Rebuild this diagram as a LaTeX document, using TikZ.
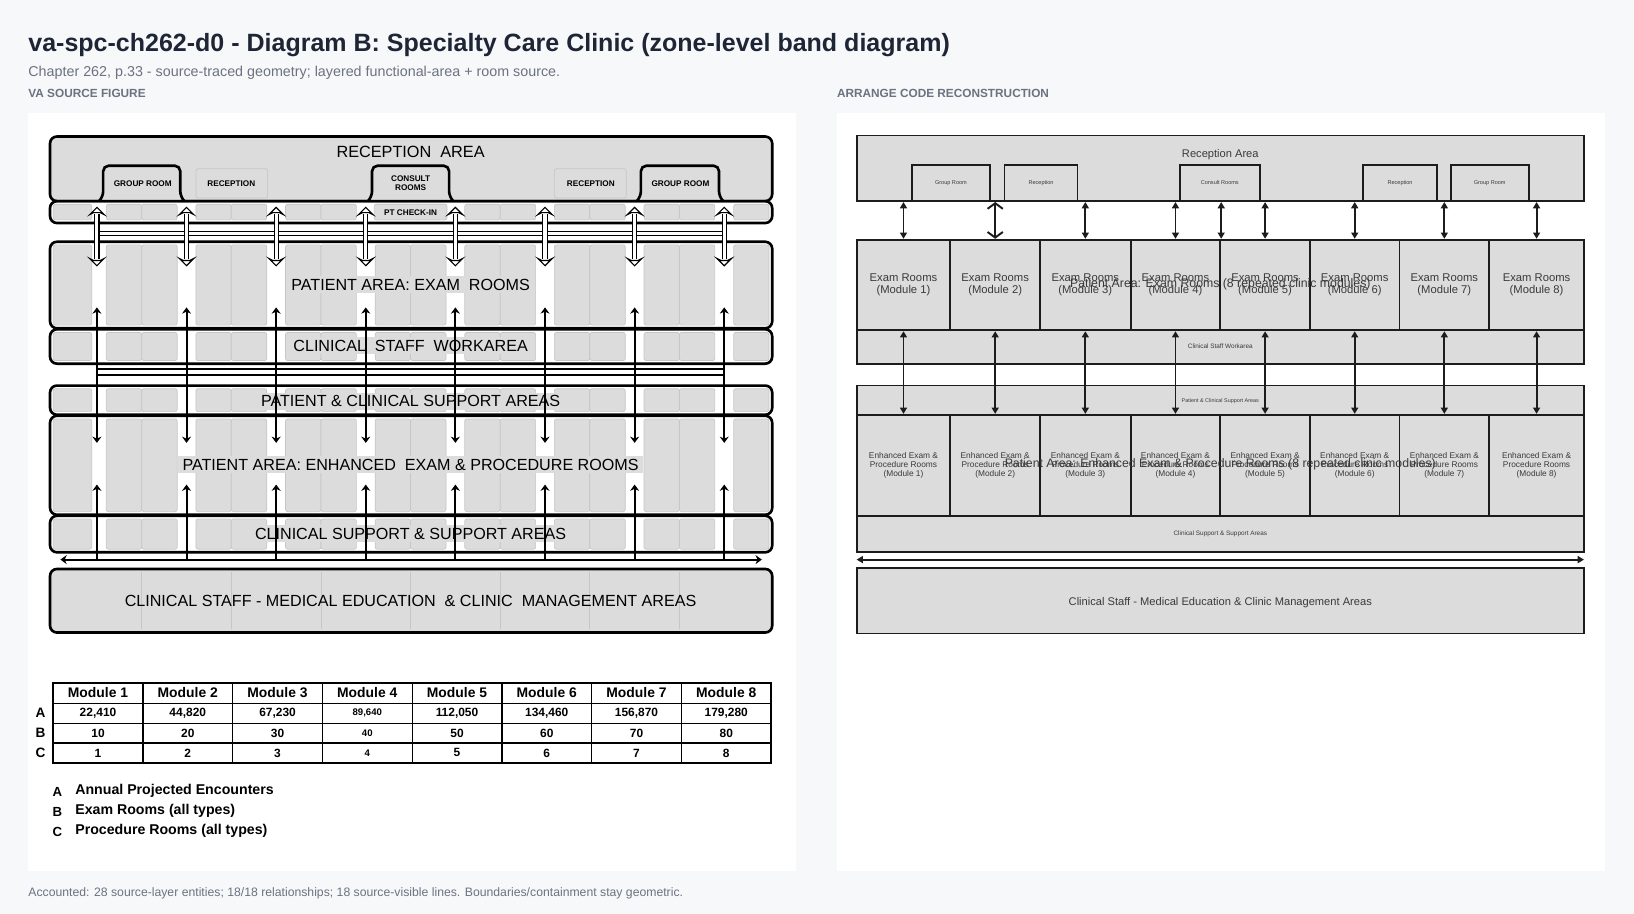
\documentclass[tikz,border=0pt]{standalone}
\usepackage{fontspec}
\setmainfont{Liberation Sans}
\usetikzlibrary{math,arrows.meta}

\definecolor{pagebg}{HTML}{F7F8FA}
\definecolor{titleink}{HTML}{1E2535}
\definecolor{mutedink}{HTML}{6B7280}
\definecolor{zonegray}{HTML}{DCDCDC}
\definecolor{celledge}{HTML}{C6C6C6}
\definecolor{rink}{HTML}{1C1C1C}
\definecolor{rtext}{HTML}{3A3A3A}

\newcommand{\fsz}[2]{\fontsize{#1}{#2}\selectfont}
% one row of paired room cells between the lanes
\newcommand{\cellrow}[2]{%
  \draw[cell] (51,#1) rectangle (88,#2);
  \foreach \i in {1,...,7} {
    \tikzmath{ \xa = 93 + 86*(\i-1) + 9; \xm = \xa + 34; \xb = \xa + 68; }
    \draw[cell] (\xa,#1) rectangle (\xm,#2);
    \draw[cell] (\xm,#1) rectangle (\xb,#2);
  }
  \draw[cell] (704,#1) rectangle (738,#2);
}

\begin{document}
\begin{tikzpicture}[x=0.75pt, y=-0.75pt]
\tikzstyle{zone}=[rectangle, draw=black, line width=1.9pt, rounded corners=5pt, inner sep=0pt]
\tikzstyle{cell}=[fill=zonegray, draw=celledge, line width=0.5pt, rounded corners=1.5pt]
\tikzstyle{zone label}=[fill=zonegray, inner xsep=3pt, inner ysep=2pt, font=\fsz{11.6}{13}]
\tikzstyle{tab}=[draw=black, line width=1.9pt, rounded corners=4pt]
\tikzstyle{tab label}=[font=\bfseries\fsz{5.9}{6.6}, align=center]
\tikzstyle{hollow}=[double=white, double distance=2.2pt, line width=0.8pt]
\tikzstyle{hollow head}=[draw=black, fill=white, line width=0.8pt, line join=miter]
\tikzstyle{lane}=[line width=1.4pt, -{Stealth[length=4.5pt, width=6.5pt]}]
\tikzstyle{rbox}=[rectangle, draw=rink, line width=1.3pt, fill=zonegray, inner sep=0pt]
\tikzstyle{rlabel}=[text=rtext, align=center]
\tikzstyle{rarrow}=[draw=rink, line width=1.4pt, {Triangle[length=4.5pt, width=5pt]}-{Triangle[length=4.5pt, width=5pt]}]
\tikzset{boxsize/.style 2 args={minimum width=(#1)*0.75pt, minimum height=(#2)*0.75pt}}

% page and the two cards
\fill[pagebg] (0,0) rectangle (1568,877);
\fill[white] (27,108) rectangle (764,836);
\fill[white] (803,108) rectangle (1540,836);

\node[anchor=base west, inner sep=0pt, text=titleink, font=\bfseries\fsz{18}{20}] (title) at (27,49) {va-spc-ch262-d0 - Diagram B: Specialty Care Clinic (zone-level band diagram)};
\node[anchor=base west, inner sep=0pt, text=mutedink, font=\fsz{10.3}{12}] (subtitle) at (27,73) {Chapter 262, p.33 - source-traced geometry; layered functional-area + room source.};
\node[anchor=base west, inner sep=0pt, text=mutedink, font=\bfseries\fsz{8.5}{10}] (srchead) at (27,94) {VA SOURCE FIGURE};
\node[anchor=base west, inner sep=0pt, text=mutedink, font=\bfseries\fsz{8.5}{10}] (archead) at (803,94) {ARRANGE CODE RECONSTRUCTION};
\node[anchor=base west, inner sep=0pt, text=mutedink, font=\fsz{8.8}{10}] (footer) at (27,860) {Accounted: 28 source-layer entities; 18/18 relationships; 18 source-visible lines. Boundaries/containment stay geometric.};

% ---------------- source figure ----------------
% reception band with its tabs
\node[zone, fill=zonegray, boxsize={693}{62}] (recep) at (394.5,162) {};
\node[font=\fsz{11.7}{13}] (recep label) at (394,146) {RECEPTION~ AREA};
\foreach \xa/\xb in {99/173, 357/431, 615/690}
  \draw[tab, fill=zonegray] (\xa-4,193) -- (\xa,189) -- (\xa,159) -- (\xb,159) -- (\xb,189) -- (\xb+4,193);
\draw[cell] (188,162) rectangle (257,190);
\draw[cell] (532,162) rectangle (601,190);
\node[tab label] (group a) at (137,176) {GROUP ROOM};
\node[tab label] (recep a) at (222,176) {RECEPTION};
\node[tab label] (consult) at (394,176) {CONSULT\\ROOMS};
\node[tab label] (recep b) at (567,176) {RECEPTION};
\node[tab label] (group b) at (653,176) {GROUP ROOM};

% check-in band
\cellrow{196}{211}
\draw[cell] (359,196) rectangle (429,211);
\node[tab label] (checkin label) at (394,204) {PT CHECK-IN};
\node[zone, boxsize={693}{21}] (checkin) at (394.5,203.5) {};

% exam rooms + staff workarea
\cellrow{235}{312}
\node[zone label] (exam label) at (394,273) {PATIENT AREA: EXAM~ ROOMS};
\node[zone, boxsize={693}{83}] (exam) at (394.5,273.5) {};
\cellrow{319}{346}
\node[zone label] (work label) at (394,332) {CLINICAL~ STAFF~ WORKAREA};
\node[zone, boxsize={693}{33}] (work) at (394.5,332.5) {};

% support, enhanced rooms, clinical support
\cellrow{373}{395}
\node[zone label] (supp label) at (394,385) {PATIENT \& CLINICAL SUPPORT AREAS};
\node[zone, boxsize={693}{28}] (supp) at (394.5,384) {};
\cellrow{402}{491}
\node[zone label] (enh label) at (394,446) {PATIENT AREA: ENHANCED~ EXAM \& PROCEDURE ROOMS};
\node[zone, boxsize={693}{95}] (enh) at (394.5,446.5) {};
\cellrow{498}{527}
\node[zone label] (csup label) at (394,512) {CLINICAL SUPPORT \& SUPPORT AREAS};
\node[zone, boxsize={693}{35}] (csup) at (394.5,512.5) {};

% medical education band
\node[zone, fill=zonegray, boxsize={693}{61}] (meded) at (394.5,576.5) {};
\foreach \i in {1,...,7}
  \draw[celledge, line width=0.5pt] ({93+86*(\i-1)+43},549) -- ++(0,55);
\node[font=\fsz{11.6}{13}] (meded label) at (394,577) {CLINICAL STAFF - MEDICAL EDUCATION~ \& CLINIC~ MANAGEMENT AREAS};

% lanes
\foreach \i in {1,...,8} {
  \tikzmath{ \lx = 93 + 86*(\i-1); }
  \coordinate (chk\i) at (\lx,199);
  \coordinate (chks\i) at (\lx,205);
  \coordinate (exms\i) at (\lx,249);
  \coordinate (exm\i) at (\lx,255);
  \coordinate (exup\i) at (\lx,295);
  \coordinate (busa\i) at (\lx,354);
  \coordinate (busb\i) at (\lx,360);
  \coordinate (endn\i) at (\lx,425);
  \coordinate (enup\i) at (\lx,465);
  \coordinate (busc\i) at (\lx,537);
}
\draw[hollow] (93,224) -- (695,224);
\foreach \i in {1,...,8} {
  \draw[hollow] (chks\i) -- (exms\i);
  \draw[hollow head] (chk\i) -- ++(-7,7) -- ++(4,-2) -- ++(6,0) -- ++(4,2) -- cycle;
  \draw[hollow head] (exm\i) -- ++(-7,-7) -- ++(4,2) -- ++(6,0) -- ++(4,-2) -- cycle;
}
\draw[line width=1.4pt] (busa1) -- (busa8);
\draw[line width=1.4pt] (busb1) -- (busb8);
\foreach \i in {1,...,8} {
  \draw[lane] (busb\i) -- (exup\i);
  \draw[lane] (busa\i) -- (endn\i);
  \draw[lane] (busc\i) -- (enup\i);
}
\coordinate (busL) at (58,537);
\coordinate (busR) at (731,537);
\draw[lane, {Stealth[length=4.5pt, width=6.5pt]}-{Stealth[length=4.5pt, width=6.5pt]}] (busL) -- (busR);

% module table
\tikzmath{ \colw = 86.125; }
\foreach \k/\va in {1/22{,}410, 2/44{,}820, 3/67{,}230, 4/89{,}640, 5/112{,}050, 6/134{,}460, 7/156{,}870, 8/179{,}280} {
  \tikzmath{ \cx = 51 + \colw*(\k-0.5); }
  \ifnum\k=4 \def\vf{\fsz{6.9}{8}}\else\def\vf{\fsz{8.6}{10}}\fi
  \node[font=\bfseries\fsz{10}{12}] (head\k) at (\cx,665) {Module \k};
  \node[font=\bfseries\vf] (va\k) at (\cx,684.5) {\va};
  \node[font=\bfseries\vf] (vb\k) at (\cx,703.5) {\the\numexpr10*\k\relax};
  \node[font=\bfseries\vf] (vc\k) at (\cx,722.5) {\k};
}
\foreach \k in {1,...,7}
  \draw[line width=0.9pt] ({51+\colw*\k},655) -- ({51+\colw*\k},732);
\foreach \yy in {675,694,713}
  \draw[line width=0.9pt] (51,\yy) -- (740,\yy);
\draw[line width=1.5pt] (51,655) rectangle (740,732);
\node[font=\bfseries\fsz{9.8}{11}] (row a) at (39,684.5) {A};
\node[font=\bfseries\fsz{9.8}{11}] (row b) at (39,703.5) {B};
\node[font=\bfseries\fsz{9.8}{11}] (row c) at (39,722.5) {C};

% legend
\foreach \ltr/\txt/\yy in {A/Annual Projected Encounters/759, B/Exam Rooms (all types)/778, C/Procedure Rooms (all types)/797} {
  \node[font=\bfseries\fsz{9.5}{10}] (key\ltr) at (55,\yy+1) {\ltr};
  \node[anchor=west, inner sep=0pt, font=\bfseries\fsz{10.2}{12}] (keytxt\ltr) at (72,\yy) {\txt};
}

% ---------------- reconstruction ----------------
\node[rbox, boxsize={698}{63}] (rrecep) at (1171,161.5) {};
\node[rlabel, font=\fsz{8}{9}] (rrecep label) at (1171,148) {Reception Area};
\foreach \xa/\xb/\txt [count=\i] in {875/950/Group Room, 964/1034/Reception, 1132/1209/Consult Rooms, 1308/1379/Reception, 1392/1467/Group Room}
  \node[rbox, boxsize={\xb-\xa}{35}, rlabel, font=\fsz{4}{5}] (rroom\i) at ({(\xa+\xb)/2},175.5) {\txt};

\node[rbox, boxsize={698}{32}] (rwork) at (1171,333) {};
\node[rlabel, font=\fsz{4.6}{5}] (rwork label) at (1171,332) {Clinical Staff Workarea};
\node[rbox, boxsize={698}{28}] (rsupp) at (1171,384) {};
\node[rlabel, font=\fsz{3.9}{4.5}] (rsupp label) at (1171,385) {Patient \& Clinical Support Areas};
\node[rbox, boxsize={698}{35}] (rcsup) at (1171,512.5) {};
\node[rlabel, font=\fsz{4.6}{5}] (rcsup label) at (1171,512) {Clinical Support \& Support Areas};

\foreach \xa/\xb [count=\i] in {822/912, 912/998, 998/1085, 1085/1171, 1171/1257, 1257/1343, 1343/1429, 1429/1520} {
  \node[rbox, boxsize={\xb-\xa}{87}, rlabel, font=\fsz{8.1}{8.4}] (ex\i) at ({(\xa+\xb)/2},273.5) {Exam Rooms\\(Module \i)};
  \node[rbox, boxsize={\xb-\xa}{97}, rlabel, font=\fsz{6}{6.8}] (en\i) at ({(\xa+\xb)/2},446.5) {Enhanced Exam \&\\Procedure Rooms\\(Module \i)};
}
\node[rlabel, font=\fsz{8.85}{10}] (rexam label) at (1171,273) {Patient Area: Exam Rooms (8 repeated clinic modules)};
\node[rlabel, font=\fsz{8.85}{10}] (renh label) at (1171,446) {Patient Area: Enhanced Exam \& Procedure Rooms (8 repeated clinic modules)};

\node[rbox, boxsize={698}{63}] (rmeded) at (1171,576.5) {};
\node[rlabel, font=\fsz{8}{9}] (rmeded label) at (1171,578) {Clinical Staff - Medical Education \& Clinic Management Areas};

% reconstruction connectors
\foreach \i in {1,3,4,5,6,7,8}
  \draw[rarrow] (rrecep.south -| ex\i.center) -- (ex\i.north);
\draw[draw=rink, line width=1.4pt, {Straight Barb[length=4pt, width=11pt]}-{Straight Barb[length=4pt, width=11pt]}] (rrecep.south -| ex2.center) -- (ex2.north);
\draw[rarrow] (rrecep.south -| ex4.north east) -- (ex4.north east);
\foreach \i in {1,...,8}
  \draw[rarrow] (ex\i.south) -- (en\i.north);
\coordinate (rbusL) at (822,537);
\coordinate (rbusR) at (1520,537);
\draw[rarrow] (rbusL) -- (rbusR);

\end{tikzpicture}
\end{document}
